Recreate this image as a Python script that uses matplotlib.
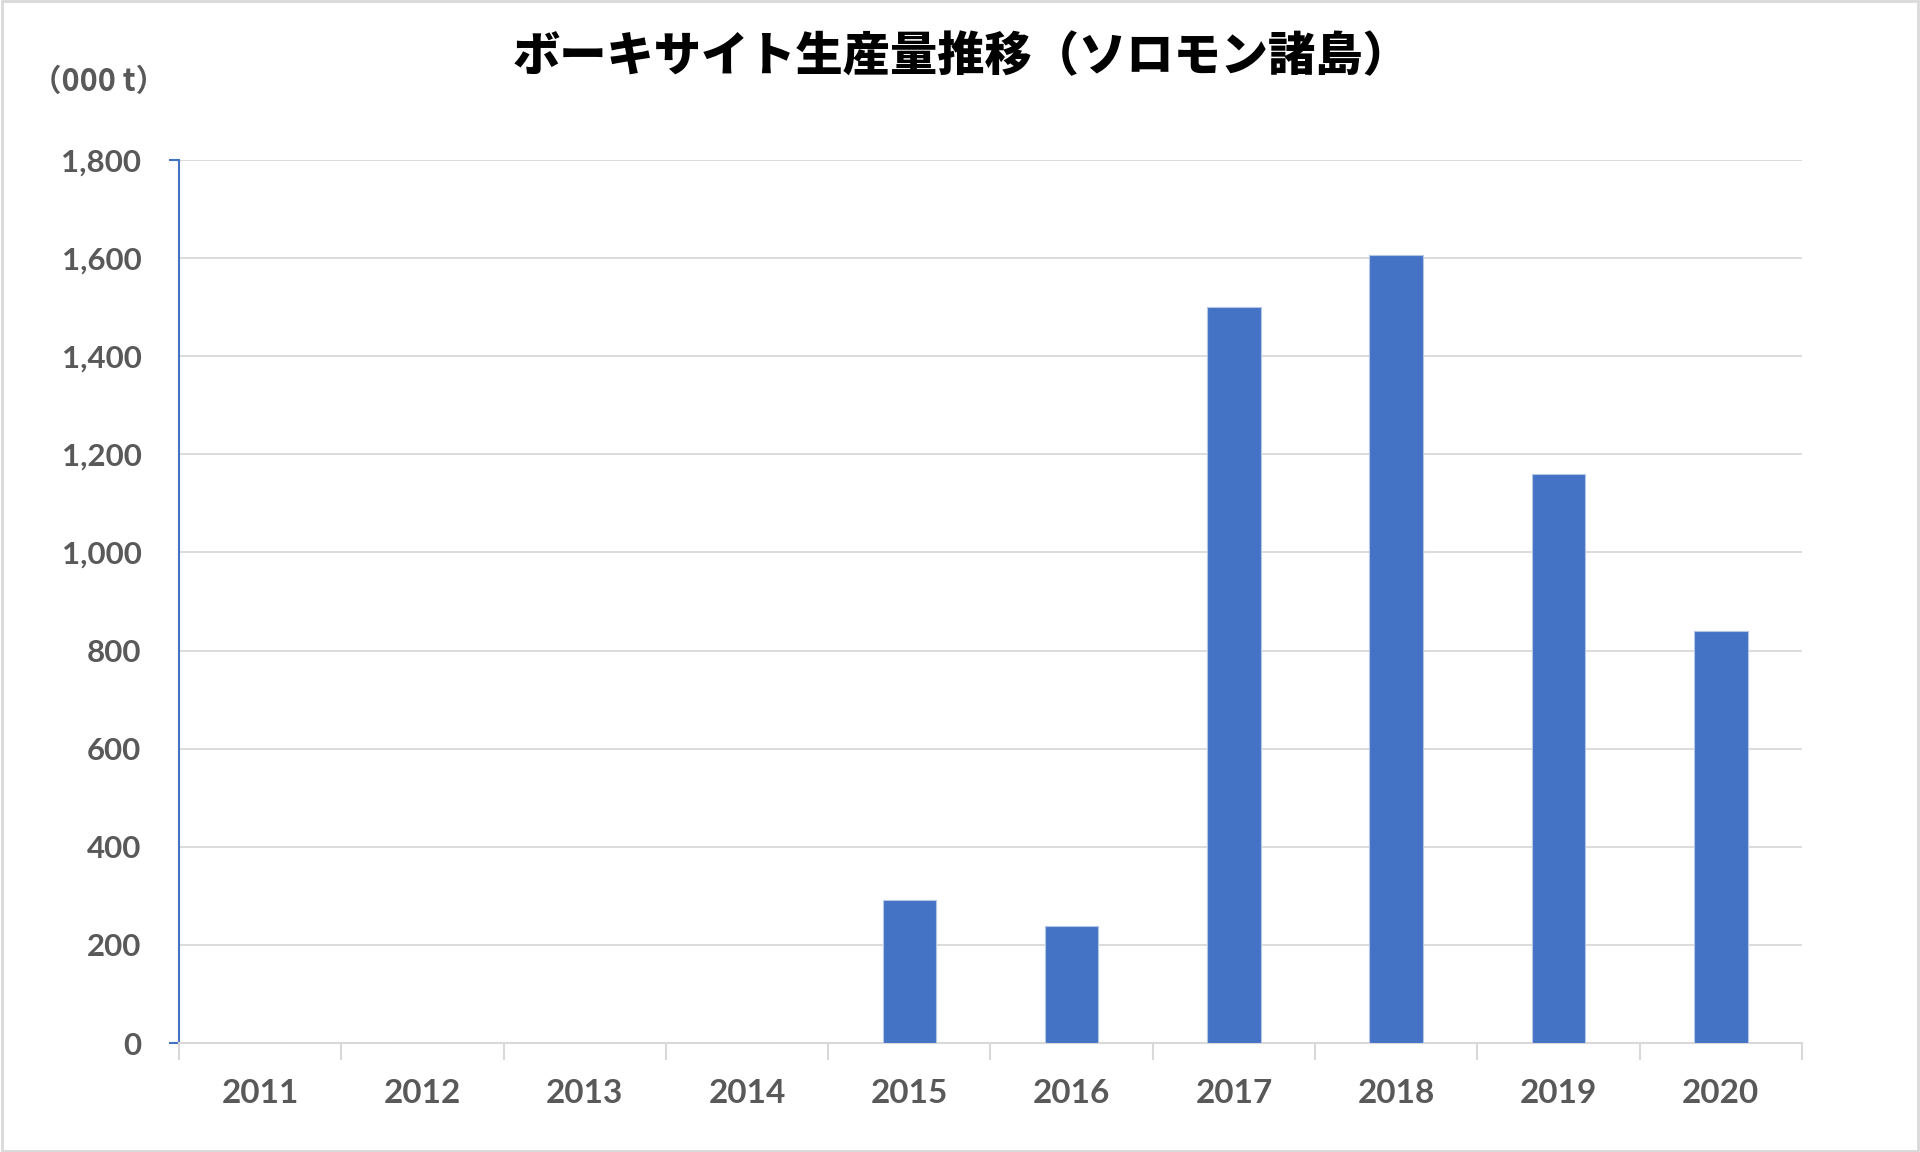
import matplotlib
matplotlib.use("Agg")
import matplotlib.pyplot as plt
from matplotlib.patches import Rectangle

years = ['2011', '2012', '2013', '2014', '2015', '2016', '2017', '2018', '2019', '2020']
production = [0, 0, 0, 0, 291, 238, 1500, 1607, 1160, 840]  # 000 t
yticks = [0, 200, 400, 600, 800, 1000, 1200, 1400, 1600, 1800]

bar_color = '#4472C4'
text_color = '#595959'
grid_color = '#D9D9D9'
num_font = ['Lato', 'Noto Sans CJK JP', 'DejaVu Sans']
jp_font = ['Noto Sans CJK JP', 'DejaVu Sans']

fig = plt.figure(figsize=(19.2, 11.52), dpi=100)
ax = fig.add_axes([0.0932, 0.0946, 0.8453, 0.7665])

x = list(range(len(years)))
ax.bar(x, production, width=0.33, color=bar_color, edgecolor='#B4C7E7', linewidth=0.8, zorder=3)

ax.set_xlim(-0.5, len(years) - 0.5)
ax.set_ylim(0, 1800)

# gridlines
ax.set_yticks(yticks)
ax.set_yticklabels([f'{v:,}' for v in yticks], fontsize=22.5, fontweight='bold',
                   color=text_color, family=num_font)
ax.yaxis.grid(True, color=grid_color, linewidth=1.3, zorder=0)
ax.tick_params(axis='y', which='major', length=0, pad=27)
ax.yaxis.remove_overlapping_locs = False
ax.set_yticks([0, 1800], minor=True)
ax.tick_params(axis='y', which='minor', length=7, width=1.5, color=bar_color)

ax.set_xticks(x)
ax.set_xticklabels(years, fontsize=24, fontweight='bold', color=text_color, family=num_font)
ax.tick_params(axis='x', which='major', length=0, pad=26)
ax.set_xticks([i - 0.5 for i in range(len(years) + 1)], minor=True)
ax.tick_params(axis='x', which='minor', length=12, width=1.5, color=grid_color)

for s in ['top', 'right']:
    ax.spines[s].set_visible(False)
ax.spines['left'].set_color(bar_color)
ax.spines['left'].set_linewidth(1.5)
ax.spines['bottom'].set_color(grid_color)
ax.spines['bottom'].set_linewidth(1.5)
ax.set_axisbelow(True)

fig.text(0.501, 0.951, 'ボーキサイト生産量推移（ソロモン諸島）', ha='center', va='center',
         fontsize=34, fontweight='heavy', color='black', family=jp_font)
fig.text(0.0515, 0.9285, '（000 t）', ha='center', va='center',
         fontsize=22, fontweight='bold', color=text_color, family=jp_font)

fig.patches.append(Rectangle((0.001, 0.001), 0.998, 0.998, transform=fig.transFigure,
                             fill=False, edgecolor=grid_color, linewidth=2))

fig.savefig('out.png', dpi=100, facecolor='white')
